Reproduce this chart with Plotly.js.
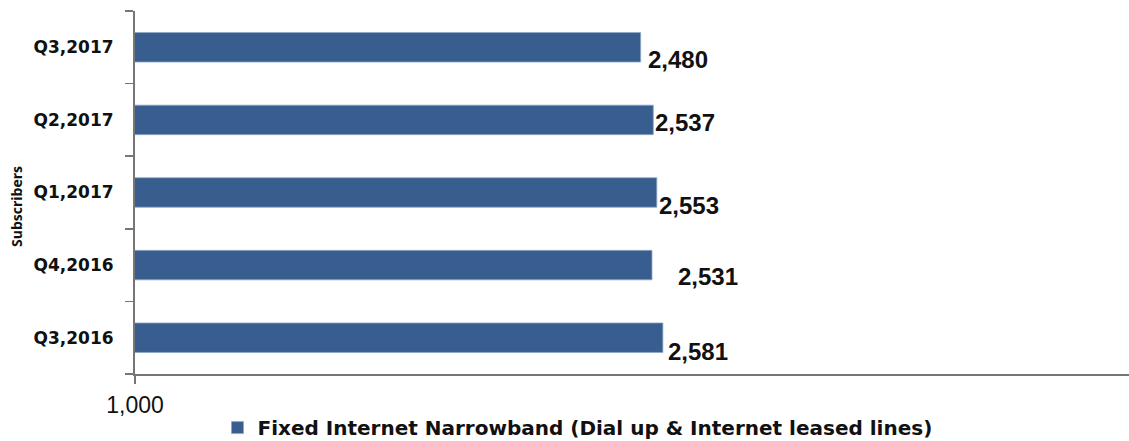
<!DOCTYPE html>
<html>
<head>
<meta charset="utf-8">
<script src="https://cdn.plot.ly/plotly-3.0.1.min.js"></script>
<style>
  html, body { margin: 0; padding: 0; background: #fff; }
  #chart { width: 1129px; height: 441px; }
</style>
</head>
<body>
<div id="chart"></div>
<script>
// Quarterly subscribers, bottom category first
const quarters = ['Q3,2016', 'Q4,2016', 'Q1,2017', 'Q2,2017', 'Q3,2017'];
const subscribers = [2581, 2531, 2553, 2537, 2480];
const seriesName = 'Fixed Internet Narrowband (Dial up & Internet leased lines)';
const axisTitle = 'Subscribers';
const xTickValues = [1000];

// Per-label nudges (pixels) for the value labels beside each bar
const labelShiftX = [3, 24, 0, 0, 5];
const labelShiftY = [-14, -11, -13, -3, -12];

const barColor = '#385E8F';
const axisColor = '#767676';
const gothic = '"DejaVu Sans", sans-serif';
const sans = '"Liberation Sans", Arial, sans-serif';

const trace = {
  type: 'bar',
  orientation: 'h',
  y: quarters,
  x: subscribers,
  name: seriesName,
  marker: { color: barColor, line: { color: '#8EA7C8', width: 0.8 } },
  hoverinfo: 'x+y'
};

const valueLabels = subscribers.map((v, i) => ({
  x: Math.log10(v),
  y: quarters[i],
  xref: 'x',
  yref: 'y',
  text: v.toLocaleString('en-US'),
  showarrow: false,
  xanchor: 'left',
  yanchor: 'middle',
  xshift: labelShiftX[i],
  yshift: labelShiftY[i],
  font: { family: sans, size: 24, color: '#111', weight: 'bold' }
}));

const layout = {
  width: 1129,
  height: 441,
  margin: { l: 135, r: 0, t: 11, b: 67, autoexpand: false },
  paper_bgcolor: '#fff',
  plot_bgcolor: '#fff',
  bargap: 0.594,
  showlegend: true,
  legend: {
    orientation: 'h',
    x: 0.083,
    xanchor: 'left',
    y: -0.094,
    yanchor: 'top',
    font: { family: gothic, size: 20, color: '#111', weight: 'bold' },
    itemwidth: 30
  },
  xaxis: {
    type: 'log',
    range: [3, 3.7754],
    tickvals: xTickValues,
    tickformat: ',',
    showgrid: false,
    zeroline: false,
    showline: true,
    linecolor: axisColor,
    linewidth: 2,
    ticks: 'outside',
    ticklen: 8,
    tickwidth: 1.5,
    tickcolor: axisColor,
    ticklabelstandoff: 1,
    automargin: false,
    tickfont: { family: sans, size: 23, color: '#111' }
  },
  yaxis: {
    type: 'category',
    showgrid: false,
    zeroline: false,
    showline: true,
    linecolor: axisColor,
    linewidth: 2,
    ticks: 'outside',
    tickson: 'boundaries',
    ticklen: 8,
    tickwidth: 1.5,
    tickcolor: axisColor,
    ticklabelstandoff: 16,
    automargin: false,
    tickfont: { family: gothic, size: 17, color: '#111', weight: 'bold' }
  },
  annotations: valueLabels.concat([{
    text: axisTitle,
    xref: 'paper',
    yref: 'paper',
    x: (16 - 135) / 994,
    y: (374 - 207) / 363,
    xanchor: 'center',
    yanchor: 'middle',
    textangle: -90,
    showarrow: false,
    font: { family: '"Open Sans", sans-serif', size: 14, color: '#111', weight: 'bold' }
  }])
};

Plotly.newPlot('chart', [trace], layout, { displayModeBar: false, staticPlot: true });
</script>
</body>
</html>
